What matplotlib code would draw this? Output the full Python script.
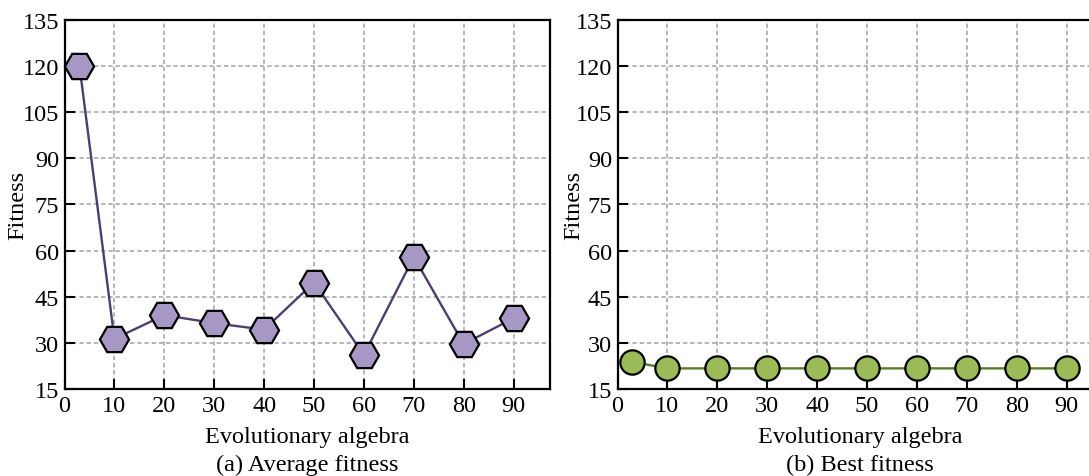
import matplotlib
matplotlib.use("Agg")
import matplotlib.pyplot as plt

# ---- data ----
generations = [3, 10, 20, 30, 40, 50, 60, 70, 80, 90]
average_fitness = [120, 31.3, 39, 36.4, 34.3, 49.6, 26.1, 57.9, 29.6, 38]
best_fitness = [23.8, 21.7, 21.7, 21.7, 21.7, 21.7, 21.7, 21.7, 21.7, 21.7]
x_ticks = [0, 10, 20, 30, 40, 50, 60, 70, 80, 90]
y_ticks = [15, 30, 45, 60, 75, 90, 105, 120, 135]
x_label = "Evolutionary algebra"
y_label = "Fitness"
captions = ["(a) Average fitness", "(b) Best fitness"]

plt.rcParams['font.family'] = ['Liberation Serif', 'DejaVu Serif']
FS = 17.5

W, H = 1089, 477
fig = plt.figure(figsize=(W / 100, H / 100), dpi=100)

ax_w = 485 / W
ax_b = 1 - 390 / H
ax_h = (390 - 20.7) / H
ax1 = fig.add_axes([64.5 / W, ax_b, ax_w, ax_h])
ax2 = fig.add_axes([617.5 / W, ax_b, ax_w, ax_h])

series = [
    (ax1, average_fitness, 'H', '#A797C5', '#4E3D6E', 21, -0.075),
    (ax2, best_fitness, 'o', '#9BBB59', '#5A7A2C', 17.5, -0.069),
]

for i, (ax, vals, mk, fc, lc, ms, ylx) in enumerate(series):
    ax.plot(generations, vals, color=lc, lw=1.7, marker=mk, markersize=ms,
            markerfacecolor=fc, markeredgecolor='black', markeredgewidth=1.6,
            zorder=5, clip_on=False)
    ax.set_xlim(0, 97.2)
    ax.set_ylim(15, 135)
    ax.set_xticks(x_ticks)
    ax.set_yticks(y_ticks)
    ax.tick_params(direction='in', length=7, width=1.5, labelsize=FS, pad=4,
                   top=False, right=False)
    for s in ax.spines.values():
        s.set_linewidth(1.6)
    ax.grid(True, color='#B0B0B0', lw=1.3, linestyle=(0, (2.4, 1.6)))
    ax.set_axisbelow(True)
    ax.set_xlabel(x_label, fontsize=FS)
    ax.xaxis.set_label_coords(0.5, -0.1)
    ax.set_ylabel(y_label, fontsize=FS)
    ax.yaxis.set_label_coords(ylx, 0.5)
    ax.text(0.5, -0.203, captions[i], transform=ax.transAxes, ha='center',
            va='center', fontsize=FS)

fig.savefig("out.png", dpi=100)
